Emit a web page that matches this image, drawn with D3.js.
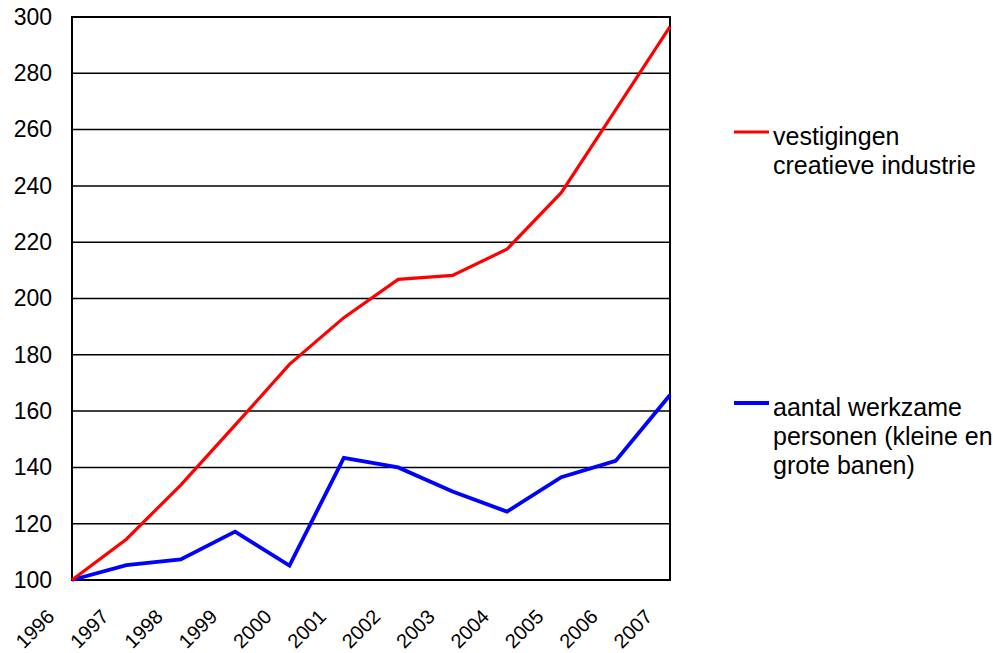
<!DOCTYPE html>
<html>
<head>
<meta charset="utf-8">
<script src="https://cdn.jsdelivr.net/npm/d3@7"></script>
<style>
  body { margin: 0; background: #fff; }
  svg { display: block; font-family: "Liberation Sans", Arial, sans-serif; }
</style>
</head>
<body>
<div id="chart"></div>
<script>
const years = ["1996", "1997", "1998", "1999", "2000", "2001", "2002", "2003", "2004", "2005", "2006", "2007"];
const vestigingen = [100, 114.5, 133.7, 155, 176.6, 193.2, 206.8, 208.2, 217.5, 237.6, 267, 296.6];
const werkzamePersonen = [100, 105.3, 107.3, 117.2, 105.1, 143.4, 140, 131.4, 124.3, 136.5, 142.3, 165.7];
const yTicks = [100, 120, 140, 160, 180, 200, 220, 240, 260, 280, 300];
const seriesNames = [
  ["vestigingen", "creatieve industrie"],
  ["aantal werkzame", "personen (kleine en", "grote banen)"]
];

const width = 993;
const height = 653;
const margin = { top: 17, right: 323, bottom: 73, left: 72 };

const svg = d3.select("#chart")
  .append("svg")
  .attr("width", width)
  .attr("height", height);

const x = d3.scalePoint().domain(years).range([margin.left, width - margin.right]);
const y = d3.scaleLinear().domain([100, 300]).range([height - margin.bottom, margin.top]);

// gridlines
svg.append("g")
  .selectAll("line")
  .data(yTicks)
  .join("line")
  .attr("x1", margin.left)
  .attr("x2", width - margin.right)
  .attr("y1", (d) => y(d))
  .attr("y2", (d) => y(d))
  .attr("stroke", "#000")
  .attr("stroke-width", 1.5);

// plot border
svg.append("rect")
  .attr("x", margin.left)
  .attr("y", margin.top)
  .attr("width", width - margin.right - margin.left)
  .attr("height", height - margin.bottom - margin.top)
  .attr("fill", "none")
  .attr("stroke", "#000")
  .attr("stroke-width", 2);

// y axis labels
const yAxis = svg.append("g")
  .attr("transform", `translate(${margin.left},0)`)
  .call(d3.axisLeft(y).tickValues(yTicks).tickSize(0).tickPadding(20));
yAxis.select(".domain").remove();
yAxis.selectAll("text")
  .attr("font-size", 23)
  .attr("font-family", "Liberation Sans, Arial, sans-serif")
  .attr("fill", "#000");

// x axis labels, slanted
const xAxis = svg.append("g")
  .attr("transform", `translate(0,${height - margin.bottom})`)
  .call(d3.axisBottom(x).tickSize(0).tickPadding(0));
xAxis.select(".domain").remove();
xAxis.selectAll("text")
  .attr("font-size", 20)
  .attr("font-family", "Liberation Sans, Arial, sans-serif")
  .attr("fill", "#000")
  .attr("text-anchor", "end")
  .attr("dy", null)
  .attr("y", 0)
  .attr("transform", "translate(-17,38) rotate(-45)");

const line = d3.line()
  .x((d, i) => x(years[i]))
  .y((d) => y(d));

svg.append("path")
  .datum(werkzamePersonen)
  .attr("fill", "none")
  .attr("stroke", "#0000ff")
  .attr("stroke-width", 3.8)
  .attr("d", line);

svg.append("path")
  .datum(vestigingen)
  .attr("fill", "none")
  .attr("stroke", "#ff0000")
  .attr("stroke-width", 3.2)
  .attr("d", line);

// legend
const legendItems = [
  { lines: seriesNames[0], color: "#ff0000", y: 132, width: 3.2 },
  { lines: seriesNames[1], color: "#0000ff", y: 403, width: 3.8 }
];

const legend = svg.append("g");
legendItems.forEach((item) => {
  legend.append("line")
    .attr("x1", 734)
    .attr("x2", 769)
    .attr("y1", item.y)
    .attr("y2", item.y)
    .attr("stroke", item.color)
    .attr("stroke-width", item.width);
  const text = legend.append("text")
    .attr("x", 773)
    .attr("y", item.y + 13)
    .attr("font-size", 25)
    .attr("fill", "#000");
  text.selectAll("tspan")
    .data(item.lines)
    .join("tspan")
    .attr("x", 773)
    .attr("dy", (d, i) => (i === 0 ? 0 : 29))
    .text((d) => d);
});
</script>
</body>
</html>
